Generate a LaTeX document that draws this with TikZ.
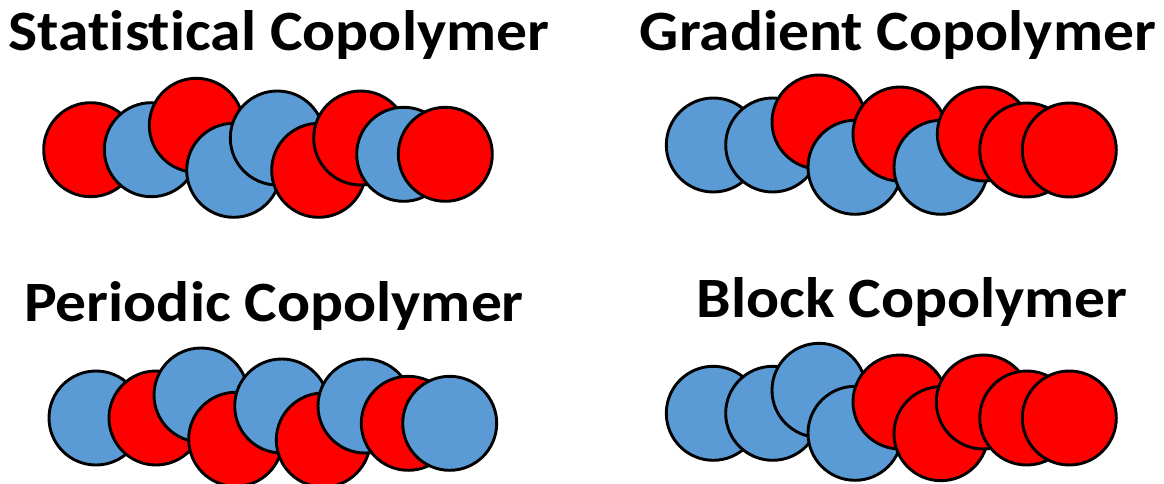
\documentclass[tikz,border=0pt]{standalone}
\usepackage{fontspec}
\setmainfont{Carlito}[FakeStretch=1.08, Ligatures=NoCommon]
\usepackage{tikz}

\definecolor{monoA}{RGB}{91,155,213}
\definecolor{monoB}{RGB}{255,0,0}

\begin{document}
\begin{tikzpicture}[x=1pt,y=-1pt]
\tikzstyle{every node}+=[inner sep=0pt]
\tikzstyle{bead}=[circle, draw=black, line width=2.9pt, minimum size=94pt]
\tikzstyle{title}=[anchor=base, font=\fontsize{57}{66}\selectfont\bfseries]
\useasboundingbox (0,0) rectangle (1164,484);
% statistical
\node [title] (statTitle) at (279,51) {Statistical Copolymer};
\node [bead, fill=monoB] (stat1) at (90.7,149.7) {};
\node [bead, fill=monoA] (stat2) at (151.3,149.7) {};
\node [bead, fill=monoB] (stat3) at (196.3,125.3) {};
\node [bead, fill=monoA] (stat4) at (233.7,170.3) {};
\node [bead, fill=monoA] (stat5) at (277.3,138) {};
\node [bead, fill=monoB] (stat6) at (318.7,170.3) {};
\node [bead, fill=monoB] (stat7) at (360.7,138) {};
\node [bead, fill=monoA] (stat8) at (403.7,154.3) {};
\node [bead, fill=monoB] (stat9) at (445.3,154.3) {};
% gradient
\node [title] (gradTitle) at (898,51) {Gradient Copolymer};
\node [bead, fill=monoA] (grad1) at (713.3,145) {};
\node [bead, fill=monoA] (grad2) at (772.7,145) {};
\node [bead, fill=monoB] (grad3) at (819,122) {};
\node [bead, fill=monoA] (grad4) at (855,167.3) {};
\node [bead, fill=monoB] (grad5) at (900,134) {};
\node [bead, fill=monoA] (grad6) at (941,167.3) {};
\node [bead, fill=monoB] (grad7) at (984.3,134) {};
\node [bead, fill=monoB] (grad8) at (1026.7,150) {};
\node [bead, fill=monoB] (grad9) at (1069.3,150) {};
% periodic
\node [title] (periTitle) at (274,321) {Periodic Copolymer};
\node [bead, fill=monoA] (peri1) at (96,418) {};
\node [bead, fill=monoB] (peri2) at (156,418) {};
\node [bead, fill=monoA] (peri3) at (201,395) {};
\node [bead, fill=monoB] (peri4) at (235.7,439.3) {};
\node [bead, fill=monoA] (peri5) at (281.7,406) {};
\node [bead, fill=monoB] (peri6) at (323.3,440) {};
\node [bead, fill=monoA] (peri7) at (365,406) {};
\node [bead, fill=monoB] (peri8) at (408.3,423.3) {};
\node [bead, fill=monoA] (peri9) at (449.7,423.3) {};
% block
\node [title] (blockTitle) at (912,317) {Block Copolymer};
\node [bead, fill=monoA] (block1) at (713.3,413.3) {};
\node [bead, fill=monoA] (block2) at (772.7,413.3) {};
\node [bead, fill=monoA] (block3) at (819,390.3) {};
\node [bead, fill=monoA] (block4) at (855,433.3) {};
\node [bead, fill=monoB] (block5) at (900,402) {};
\node [bead, fill=monoB] (block6) at (941,433.7) {};
\node [bead, fill=monoB] (block7) at (983.3,402) {};
\node [bead, fill=monoB] (block8) at (1026.7,418) {};
\node [bead, fill=monoB] (block9) at (1069.3,418) {};
\end{tikzpicture}
\end{document}
